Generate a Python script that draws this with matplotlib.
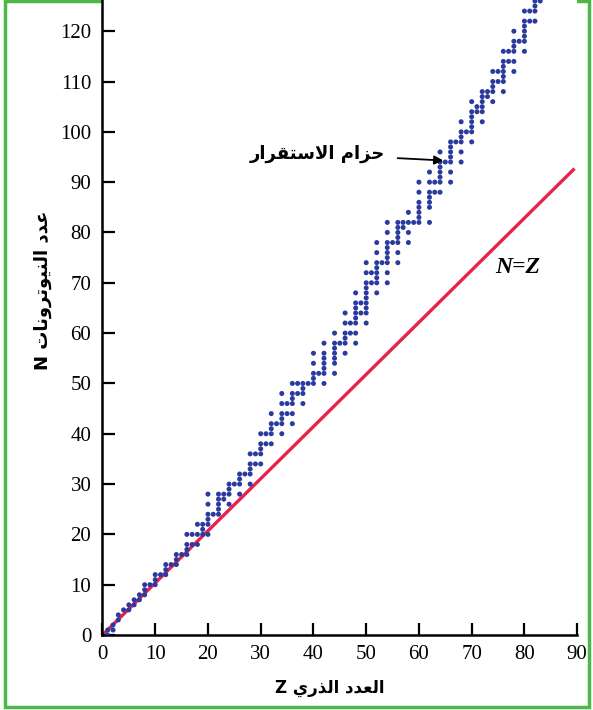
import matplotlib.pyplot as plt
from matplotlib.patches import Rectangle

# Stable nuclei: atomic number Z and the neutron counts N of its stable isotopes
z_values = [1, 2, 3, 4, 5, 6, 7, 8, 9, 10, 11, 12, 13, 14, 15, 16, 17, 18, 19, 20,
            21, 22, 23, 24, 25, 26, 27, 28, 29, 30, 31, 32, 33, 34, 35, 36, 37, 38, 39, 40,
            41, 42, 44, 45, 46, 47, 48, 49, 50, 51, 52, 53, 54, 55, 56, 57, 58, 59, 60,
            62, 63, 64, 65, 66, 67, 68, 69, 70, 71, 72, 73, 74, 75, 76, 77, 78, 79, 80,
            81, 82, 83]
n_values = [
    [0, 1], [1, 2], [3, 4], [5], [5, 6], [6, 7], [7, 8], [8, 9, 10], [10], [10, 11, 12],
    [12], [12, 13, 14], [14], [14, 15, 16], [16], [16, 17, 18, 20], [18, 20], [18, 20, 22],
    [20, 21, 22], [20, 22, 23, 24, 26, 28],
    [24], [24, 25, 26, 27, 28], [27, 28], [26, 28, 29, 30], [30], [28, 30, 31, 32], [32],
    [30, 32, 33, 34, 36], [34, 36], [34, 36, 37, 38, 40],
    [38, 40], [38, 40, 41, 42, 44], [42], [40, 42, 43, 44, 46, 48], [44, 46],
    [42, 44, 46, 47, 48, 50], [48, 50], [46, 48, 49, 50], [50], [50, 51, 52, 54, 56],
    [52], [50, 52, 53, 54, 55, 56, 58], [52, 54, 55, 56, 57, 58, 60], [58],
    [56, 58, 59, 60, 62, 64], [60, 62], [58, 60, 62, 63, 64, 65, 66, 68], [64, 66],
    [62, 64, 65, 66, 67, 68, 69, 70, 72, 74], [70, 72],
    [68, 70, 71, 72, 73, 74, 76, 78], [74], [70, 72, 74, 75, 76, 77, 78, 80, 82], [78],
    [74, 76, 78, 79, 80, 81, 82], [81, 82], [78, 80, 82, 84], [82],
    [82, 83, 84, 85, 86, 88, 90],
    [82, 85, 86, 87, 88, 90, 92], [88, 90], [88, 90, 91, 92, 93, 94, 96], [94],
    [90, 92, 94, 95, 96, 97, 98], [98], [94, 96, 98, 99, 100, 102], [100],
    [98, 100, 101, 102, 103, 104, 106], [104, 105], [102, 104, 105, 106, 107, 108],
    [107, 108], [106, 108, 109, 110, 112], [110, 112], [108, 110, 111, 112, 113, 114, 116],
    [114, 116], [112, 114, 116, 117, 118, 120], [118],
    [116, 118, 119, 120, 121, 122, 124], [122, 124], [122, 124, 125, 126], [126],
]

# N = Z reference line, end points as drawn in the picture
line_z = [0, 89.5]
line_n = [0, 92.7]

x_ticks = list(range(0, 91, 10))
y_ticks = list(range(0, 121, 10))

# --- minimal Arabic shaping (matplotlib has no bidi / joining) ---
FORMS = {  # isolated, final, initial, medial
    'ا': ('\uFE8D', '\uFE8E', None, None),
    'د': ('\uFEA9', '\uFEAA', None, None),
    'ذ': ('\uFEAB', '\uFEAC', None, None),
    'ر': ('\uFEAD', '\uFEAE', None, None),
    'ز': ('\uFEAF', '\uFEB0', None, None),
    'و': ('\uFEED', '\uFEEE', None, None),
    'ع': ('\uFEC9', '\uFECA', '\uFECB', '\uFECC'),
    'ل': ('\uFEDD', '\uFEDE', '\uFEDF', '\uFEE0'),
    'ن': ('\uFEE5', '\uFEE6', '\uFEE7', '\uFEE8'),
    'ي': ('\uFEF1', '\uFEF2', '\uFEF3', '\uFEF4'),
    'ت': ('\uFE95', '\uFE96', '\uFE97', '\uFE98'),
    'ح': ('\uFEA1', '\uFEA2', '\uFEA3', '\uFEA4'),
    'م': ('\uFEE1', '\uFEE2', '\uFEE3', '\uFEE4'),
    'س': ('\uFEB1', '\uFEB2', '\uFEB3', '\uFEB4'),
    'ق': ('\uFED5', '\uFED6', '\uFED7', '\uFED8'),
}


def dual(c):
    return c in FORMS and FORMS[c][2] is not None


def shape(text):
    out = []
    i = 0
    while i < len(text):
        c = text[i]
        prev_joins = i > 0 and dual(text[i - 1])
        if c == 'ل' and i + 1 < len(text) and text[i + 1] == 'ا':
            out.append('\uFEFC' if prev_joins else '\uFEFB')
            i += 2
            continue
        if c not in FORMS:
            out.append(c)
            i += 1
            continue
        next_joins = dual(c) and i + 1 < len(text) and text[i + 1] in FORMS
        iso, fin, ini, med = FORMS[c]
        if prev_joins and next_joins:
            out.append(med)
        elif prev_joins:
            out.append(fin)
        elif next_joins:
            out.append(ini)
        else:
            out.append(iso)
        i += 1
    return ''.join(out)[::-1]


fig = plt.figure(figsize=(5.93, 7.1), dpi=100)
ax = fig.add_axes([0.1728, 0.1056, 0.8005, 0.8944])

zs = [z for z, ns in zip(z_values, n_values) for _ in ns]
ns = [n for row in n_values for n in row]
ax.scatter(zs, ns, s=13, color='#2b3a9f', edgecolors='none', zorder=3)
ax.plot(line_z, line_n, color='#e8224d', lw=2.4, solid_capstyle='butt', zorder=2)

ax.set_xlim(0, 90)
ax.set_ylim(0, 126.2)
ax.set_xticks(x_ticks)
ax.set_yticks(y_ticks)
ax.spines['top'].set_visible(False)
ax.spines['right'].set_visible(False)
ax.spines['left'].set_linewidth(1.8)
ax.spines['bottom'].set_linewidth(1.8)
ax.tick_params(direction='in', length=9, width=1.6, labelsize=15)
ax.tick_params(axis='y', pad=8)
ax.tick_params(axis='x', pad=7)
for lab in ax.get_xticklabels() + ax.get_yticklabels():
    lab.set_fontfamily('Liberation Serif')

ax.text(78.7, 73, 'N=Z', fontsize=17, fontstyle='italic', fontweight='bold',
        family='Liberation Serif', ha='center', va='center')

ax.annotate(shape('حزام الاستقرار'), xy=(64.6, 94.3), xytext=(53.6, 95.6),
            fontsize=13, fontweight='bold', family='DejaVu Sans', ha='right', va='center',
            arrowprops=dict(arrowstyle='-|>', color='black', lw=1.3, mutation_scale=13,
                            shrinkA=7, shrinkB=0))

fig.text(43 / 593, 1 - 290 / 710, 'N ' + shape('عدد النيوترونات'), rotation=90,
         fontsize=13, fontweight='bold', family='DejaVu Sans', ha='center', va='center')
fig.text(330 / 593, 1 - 688 / 710, 'Z ' + shape('العدد الذري'),
         fontsize=12, fontweight='bold', family='DejaVu Sans', ha='center', va='center')

fig.patches.append(Rectangle((5 / 593, 3 / 710), 584 / 593, 706 / 710, transform=fig.transFigure,
                             fill=False, edgecolor='#4cb848', lw=2.5, zorder=-1))

fig.savefig('out.png', dpi=100)
